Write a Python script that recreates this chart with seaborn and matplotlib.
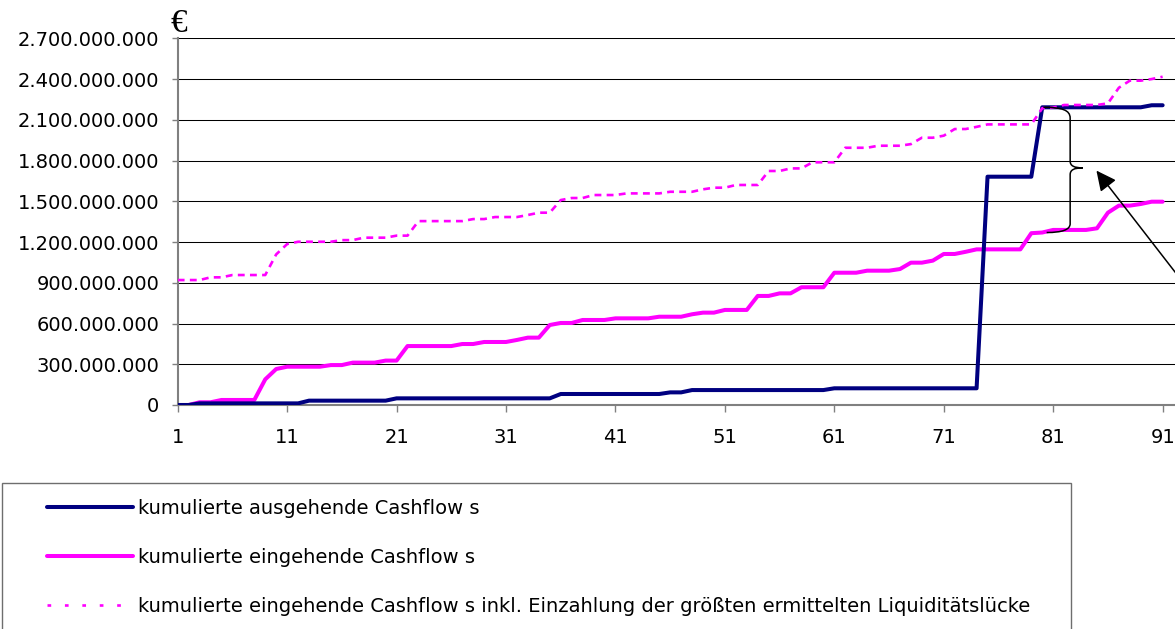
import pandas as pd
import seaborn as sns
import matplotlib.pyplot as plt
from matplotlib.lines import Line2D
from matplotlib.patches import PathPatch, Rectangle
from matplotlib.path import Path
from matplotlib.ticker import FuncFormatter

# Perioden 1..91 (Kategorienachse)
perioden = list(range(1, 92))

# Werte in Mio. Euro
ausgehend = [0, 0, 12, 12, 12, 12, 12, 12, 12, 12, 12, 12,
             32, 32, 32, 32, 32, 32, 32, 32,
             49, 49, 49, 49, 49, 49, 49, 49, 49, 49, 49, 49, 49, 49, 49,
             81, 81, 81, 81, 81, 81, 81, 81, 81, 81,
             93, 93,
             110, 110, 110, 110, 110, 110, 110, 110, 110, 110, 110, 110, 110,
             123, 123, 123, 123, 123, 123, 123, 123, 123, 123, 123, 123, 123, 123,
             1681, 1681, 1681, 1681, 1681,
             2192, 2192, 2192, 2192, 2192, 2192, 2192, 2192, 2192, 2192,
             2207, 2207]

eingehend = [0, 0, 20, 20, 37, 37, 37, 37, 189, 265,
             282, 282, 282, 282, 294, 294, 312, 312, 312, 327,
             327, 434, 434, 434, 434, 434, 449, 449, 464, 464,
             464, 479, 496, 496, 589, 604, 604, 626, 626, 626,
             638, 638, 638, 638, 650, 650, 650, 668, 680, 680,
             700, 700, 700, 803, 803, 822, 822, 867, 867, 867,
             974, 974, 974, 989, 989, 989, 1001, 1048, 1048, 1063,
             1112, 1112, 1128, 1146, 1146, 1146, 1146, 1146, 1265, 1270,
             1289, 1289, 1289, 1289, 1301, 1416, 1468, 1468, 1480, 1497,
             1497]

eingehend_inkl = [920, 920, 920, 940, 940, 957, 957, 957, 957, 1109,
                  1185, 1202, 1202, 1202, 1202, 1214, 1214, 1232, 1232, 1232,
                  1247, 1247, 1354, 1354, 1354, 1354, 1354, 1369, 1369, 1384,
                  1384, 1384, 1399, 1416, 1416, 1509, 1524, 1524, 1546, 1546,
                  1546, 1558, 1558, 1558, 1558, 1570, 1570, 1570, 1588, 1600,
                  1600, 1620, 1620, 1620, 1723, 1723, 1742, 1742, 1787, 1787,
                  1787, 1894, 1894, 1894, 1909, 1909, 1909, 1921, 1968, 1968,
                  1983, 2032, 2032, 2048, 2066, 2066, 2066, 2066, 2066, 2185,
                  2190, 2209, 2209, 2209, 2209, 2221, 2336, 2388, 2388, 2400,
                  2417]

x_ticks = [1, 11, 21, 31, 41, 51, 61, 71, 81, 91]
y_ticks = [0, 300, 600, 900, 1200, 1500, 1800, 2100, 2400, 2700]

labels = ["kumulierte ausgehende Cashflow s",
          "kumulierte eingehende Cashflow s",
          "kumulierte eingehende Cashflow s inkl. Einzahlung der größten ermittelten Liquiditätslücke"]

df = pd.DataFrame({"periode": perioden,
                   "ausgehend": ausgehend,
                   "eingehend": eingehend,
                   "eingehend_inkl": eingehend_inkl})

BLAU = "#000080"
PINK = "#FF00FF"
GRAU = "#808080"

sns.set_theme(style="white")
plt.rcParams["font.family"] = ["DejaVu Sans"]
plt.rcParams["text.color"] = "black"
plt.rcParams["xtick.color"] = "black"
plt.rcParams["ytick.color"] = "black"

W, H = 1175, 629
fig = plt.figure(figsize=(W / 100, H / 100), dpi=100)
ax = fig.add_axes([177.7 / W, 1 - 405 / H, (W - 177.7) / W, (405 - 38.3) / H])

sns.lineplot(data=df, x="periode", y="eingehend", ax=ax, color=PINK, lw=2.9, zorder=3)
sns.lineplot(data=df, x="periode", y="ausgehend", ax=ax, color=BLAU, lw=2.9, zorder=4)
sns.lineplot(data=df, x="periode", y="eingehend_inkl", ax=ax, color=PINK, lw=1.9,
             linestyle=(0, (2.6, 2.0)), zorder=5)

ax.set_xlim(1, 92.13)
ax.set_ylim(0, 2700)
ax.set_xticks(x_ticks)
ax.set_yticks(y_ticks)
ax.yaxis.set_major_formatter(FuncFormatter(lambda v, p: f"{v * 1e6:,.0f}".replace(",", ".")))
ax.set_xlabel("")
ax.set_ylabel("")

ax.yaxis.grid(True, color="black", lw=0.75)
ax.xaxis.grid(False)
for s in ["top", "right"]:
    ax.spines[s].set_visible(False)
for s in ["left", "bottom"]:
    ax.spines[s].set_color(GRAU)
    ax.spines[s].set_linewidth(1.5)
ax.tick_params(axis="y", direction="out", length=4.3, width=1, color=GRAU, pad=9,
               labelsize=14, labelcolor="black", left=True)
ax.tick_params(axis="x", direction="out", length=4.8, width=1, color=GRAU, pad=12,
               labelsize=14, labelcolor="black", bottom=True)

# geschweifte Klammer fuer die groesste Liquiditaetsluecke (Periode 80)
oben = ausgehend[79]
unten = eingehend[79]
mitte = (oben + unten) / 2 + 15
xv, xs = 82.55, 83.7
klammer = Path(
    [(80.1, oben), (81.8, oben), (xv, oben - 20), (xv, oben - 80),
     (xv, mitte + 50),
     (xv, mitte + 15), (82.9, mitte), (xs, mitte),
     (xs, mitte), (82.9, mitte), (xv, mitte - 15), (xv, mitte - 50),
     (xv, unten + 65),
     (xv, unten + 20), (81.8, unten), (80.4, unten)],
    [Path.MOVETO, Path.CURVE4, Path.CURVE4, Path.CURVE4,
     Path.LINETO,
     Path.CURVE4, Path.CURVE4, Path.CURVE4,
     Path.MOVETO, Path.CURVE4, Path.CURVE4, Path.CURVE4,
     Path.LINETO,
     Path.CURVE4, Path.CURVE4, Path.CURVE4])
ax.add_patch(PathPatch(klammer, fill=False, edgecolor="black", lw=1.1, zorder=6))

ax.annotate("", xy=(84.95, mitte - 20), xytext=(93.5, 837),
            arrowprops=dict(arrowstyle="-|>,head_length=0.45,head_width=0.22",
                            color="black", lw=1.1, mutation_scale=27, shrinkA=0, shrinkB=0),
            annotation_clip=False, zorder=7)

# Einheit
fig.text(170.5 / W, 1 - 31.5 / H, "€", family=["Liberation Serif", "DejaVu Serif"],
         fontsize=24, ha="left", va="baseline")

# Legende
handles = [Line2D([], [], color=BLAU, lw=2.9),
           Line2D([], [], color=PINK, lw=2.9),
           Line2D([], [], color=PINK, lw=1.9, linestyle=(0, (1.4, 5.2)))]
fig.legend(handles, labels, loc="upper left", bbox_to_anchor=(46.7 / W, 1 - 499 / H),
           frameon=False, borderpad=0, borderaxespad=0, handlelength=4.45,
           handletextpad=0.26, labelspacing=1.53, fontsize=14)
fig.add_artist(Rectangle((1.7 / W, -0.05), (1070.7 - 1.7) / W, (1 - 482.7 / H) + 0.05,
                         transform=fig.transFigure, fill=False, edgecolor="#6e6e6e", lw=1))

fig.savefig("out.png", dpi=100)
